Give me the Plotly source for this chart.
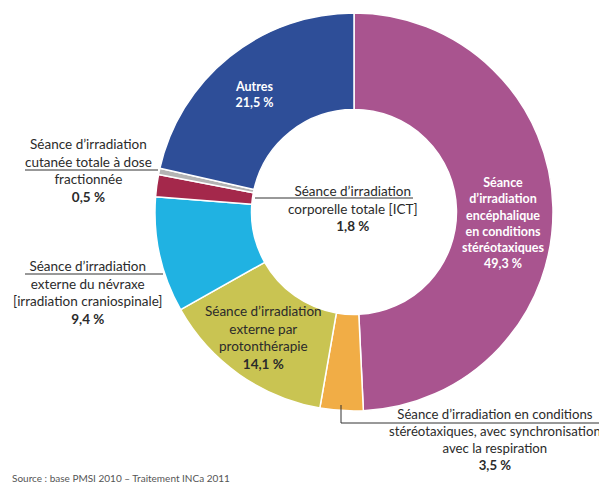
import plotly.graph_objects as go

# ---- data ----
labels = [
    "Séance d’irradiation encéphalique en conditions stéréotaxiques",
    "Séance d’irradiation en conditions stéréotaxiques, avec synchronisation avec la respiration",
    "Séance d’irradiation externe par protonthérapie",
    "Séance d’irradiation externe du névraxe [irradiation craniospinale]",
    "Séance d’irradiation corporelle totale [ICT]",
    "Séance d’irradiation cutanée totale à dose fractionnée",
    "Autres",
]
values = [49.3, 3.5, 14.1, 9.4, 1.8, 0.5, 21.5]
label_lines = [
    ["Séance", "d’irradiation", "encéphalique", "en conditions", "stéréotaxiques"],
    ["Séance d’irradiation en conditions", "stéréotaxiques, avec synchronisation", "avec la respiration"],
    ["Séance d’irradiation", "externe par", "protonthérapie"],
    ["Séance d’irradiation", "externe du névraxe", "[irradiation craniospinale]"],
    ["Séance d’irradiation", "corporelle totale [ICT]"],
    ["Séance d’irradiation", "cutanée totale à dose", "fractionnée"],
    ["Autres"],
]
colors = ["#a9548f", "#f1ad46", "#c9c452", "#20b2e2", "#a4284b", "#b4b4b4", "#2e4e98"]
source_text = "Source : base PMSI 2010 – Traitement INCa 2011"

# page has an 8px body margin: figure placed at (8, 8)
OFF = 8
W, H = 607 - OFF, 484 - OFF

def px(x):
    return (x - OFF) / W

def py(y):
    return 1 - (y - OFF) / H

fig = go.Figure(go.Pie(
    labels=labels,
    values=values,
    sort=False,
    direction="clockwise",
    rotation=0,
    hole=0.515,
    marker=dict(colors=colors, line=dict(color="white", width=1.5)),
    textinfo="none",
    hoverinfo="label+percent",
    domain=dict(x=[px(155), px(553)], y=[py(411), py(13)]),
    showlegend=False,
))

def fmt(v):
    return f"{v:.1f}".replace(".", ",") + " %"

# annotation placement: (center x px, center y px, text color, font size)
placements = [
    (503, 223, "white", 12.5),
    (495, 439.5, "#2b2b2b", 13.2),
    (263, 337.5, "#2b2b2b", 13.5),
    (88, 292.5, "#2b2b2b", 13.5),
    (353, 208.5, "#2b2b2b", 13.5),
    (89, 170.5, "#2b2b2b", 13.5),
    (254, 94.5, "white", 12.5),
]

annotations = []
for lines, v, (cx, cy, col, size) in zip(label_lines, values, placements):
    if col == "white":
        txt = "<br>".join("<b>" + l + "</b>" for l in lines) + "<br><b>" + fmt(v) + "</b>"
    else:
        txt = "<br>".join(lines) + "<br><b>" + fmt(v) + "</b>"
    annotations.append(dict(
        x=px(cx), y=py(cy), xref="paper", yref="paper",
        text=txt, showarrow=False, align="center",
        xanchor="center", yanchor="middle",
        font=dict(family="Lato", size=size, color=col),
    ))

annotations.append(dict(
    x=px(10), y=py(478), xref="paper", yref="paper",
    text=source_text, showarrow=False, xanchor="left", yanchor="middle",
    font=dict(family="Lato", size=10, color="#555555"),
))

line_style = dict(color="#333333", width=1)
shapes = [
    # cutanée totale (0.5 %)
    dict(type="line", xref="paper", yref="paper", x0=px(25), y0=py(170), x1=px(158), y1=py(170), line=line_style),
    # névraxe (9.4 %)
    dict(type="line", xref="paper", yref="paper", x0=px(25), y0=py(274), x1=px(163), y1=py(274), line=line_style),
    # ICT (1.8 %)
    dict(type="line", xref="paper", yref="paper", x0=px(255), y0=py(198), x1=px(413), y1=py(198), line=line_style),
    # synchronisation respiration (3.5 %)
    dict(type="line", xref="paper", yref="paper", x0=px(341), y0=py(405), x1=px(341), y1=py(423), line=line_style),
    dict(type="line", xref="paper", yref="paper", x0=px(341), y0=py(423), x1=px(600), y1=py(423), line=line_style),
]

fig.update_layout(
    width=W, height=H,
    margin=dict(l=0, r=0, t=0, b=0),
    paper_bgcolor="white",
    plot_bgcolor="white",
    annotations=annotations,
    shapes=shapes,
)

fig.write_html("out.html")
